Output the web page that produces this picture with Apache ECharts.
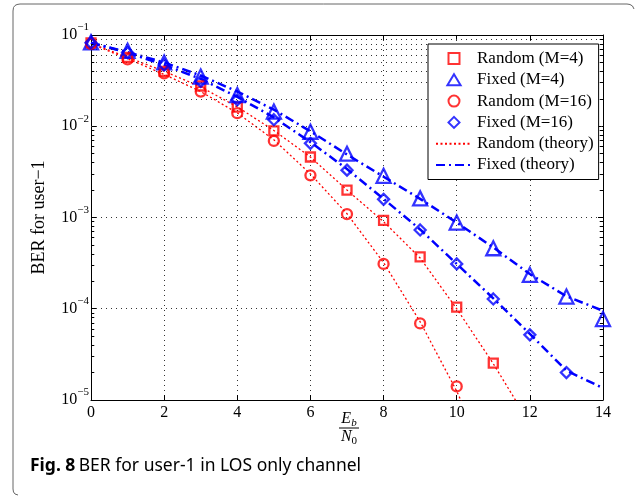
<!DOCTYPE html>
<html><head><meta charset="utf-8">
<script src="https://cdn.jsdelivr.net/npm/echarts@6/dist/echarts.min.js"></script>
<style>html,body{margin:0;padding:0;background:#fff}#c{width:635px;height:496px}</style>
</head><body><div id="c"></div>
<script>
// ---- data ----
const ebn0 = [0,1,2,3,4,5,6,7,8,9,10,11,12,13,14];
const xTicks = [0,2,4,6,8,10,12,14];
const yDecades = [1e-5,1e-4,1e-3,1e-2,1e-1];

const randomM4  = [0.082,0.057,0.040,0.0276,0.0162,0.0089,0.0046,0.0020,0.00093,0.00037,0.000104,0.0000254];
const fixedM4   = [0.083,0.067,0.050,0.035,0.022,0.0145,0.0087,0.0050,0.00286,0.00162,0.00088,0.00046,0.000235,0.000136,0.000077];
const randomM16 = [0.080,0.054,0.038,0.024,0.0139,0.0069,0.0029,0.00109,0.00031,0.000069,0.0000141];
const fixedM16  = [0.082,0.064,0.047,0.031,0.0195,0.0118,0.0065,0.0033,0.00158,0.00073,0.00031,0.000128,0.0000518,0.0000200];

const theoryRandomM4  = [0.081,0.057,0.040,0.027,0.0163,0.0090,0.0046,0.0020,0.00090,0.00036,0.000100,0.0000250,0.0000055];
const theoryRandomM16 = [0.080,0.055,0.037,0.024,0.0140,0.0071,0.0030,0.00110,0.00032,0.000072,0.0000125,0.0000016];
const theoryFixedM4   = [0.082,0.065,0.050,0.036,0.024,0.0152,0.0088,0.0049,0.0028,0.0016,0.00088,0.00047,0.00024,0.000137,0.000095];
const theoryFixedM16  = [0.082,0.064,0.047,0.033,0.021,0.0125,0.0067,0.0034,0.0016,0.00074,0.00031,0.00013,0.000053,0.000021,0.0000135];

const legendNames = ['Random (M=4)','Fixed (M=4)','Random (M=16)','Fixed (M=16)','Random (theory)','Fixed (theory)'];

// minor log grid positions (2..9 x each decade)
const minorVals = [];
for (let k = -5; k <= -2; k++) for (let m = 2; m <= 9; m++) minorVals.push(m * Math.pow(10, k));

// ---- helpers ----
const pairs = arr => arr.map((v, i) => [ebn0[i], v]);
const RED = '#ff0000', BLUE = '#0000ff';
const SERIF = '"Liberation Serif", "Times New Roman", serif';
const SANS = '"Noto Sans", "Open Sans", sans-serif';
const dotGrid = {color: '#333', width: 1, type: [1, 4]};

const ICONS = {
  rect: 'path://M0,0L10,0L10,10L0,10Z',
  triangle: 'path://M6,0L12,10L0,10Z',
  circle: 'path://M0,5A5,5,0,1,1,10,5A5,5,0,1,1,0,5Z',
  diamond: 'path://M5,0L10,5L5,10L0,5Z'
};

const chart = echarts.init(document.getElementById('c'), null, {renderer: 'canvas'});

function scatter(name, data, symbol, size, color) {
  return {
    name, type: 'scatter', data: pairs(data), symbol, symbolSize: size, z: 5,
    itemStyle: {color: 'rgba(255,255,255,0)', borderColor: color, borderWidth: 2.3}
  };
}
function theory(name, data, color, width, dash) {
  return {
    name, type: 'line', data: pairs(data), symbol: 'none', showSymbol: false, z: 3, clip: true,
    lineStyle: {color, width, type: dash}, itemStyle: {color}
  };
}

const option = {
  animation: false,
  backgroundColor: '#fff',
  grid: {left: 91, right: 32, top: 35, bottom: 96, containLabel: false},
  xAxis: [
    {type: 'value', min: 0, max: 14, interval: 2, position: 'bottom',
     axisLine: {show: true, onZero: false, lineStyle: {color: '#000', width: 1}},
     axisTick: {show: true, inside: true, length: 5, lineStyle: {color: '#000'}},
     axisLabel: {margin: 5, color: '#000', fontFamily: SERIF, fontSize: 16,
                 formatter: v => xTicks.includes(v) ? String(v) : ''},
     splitLine: {show: true, lineStyle: dotGrid}},
    {type: 'value', min: 0, max: 14, interval: 2, position: 'top',
     axisLine: {show: true, onZero: false, lineStyle: {color: '#000', width: 1}},
     axisTick: {show: true, inside: true, length: 5, lineStyle: {color: '#000'}},
     axisLabel: {show: false}, splitLine: {show: false}}
  ],
  yAxis: [
    {type: 'log', logBase: 10, min: yDecades[0], max: yDecades[yDecades.length-1], position: 'left',
     name: 'BER for user\u22121', nameLocation: 'middle', nameGap: 43,
     nameTextStyle: {color: '#000', fontFamily: SERIF, fontSize: 18},
     axisLine: {show: true, onZero: false, lineStyle: {color: '#000', width: 1}},
     axisTick: {show: true, inside: true, length: 5, lineStyle: {color: '#000'}},
     axisLabel: {margin: 2, color: '#000', fontFamily: SERIF,
       formatter: v => { const e = Math.round(Math.log10(v)); return '{b|10}{e|\u2212' + Math.abs(e) + '}'; },
       rich: {b: {fontFamily: SERIF, fontSize: 16, lineHeight: 26, color: '#000'},
              e: {fontFamily: SERIF, fontSize: 11, lineHeight: 11, verticalAlign: 'top', color: '#000'}}},
     splitLine: {show: true, lineStyle: dotGrid}},
    {type: 'log', logBase: 10, min: yDecades[0], max: yDecades[yDecades.length-1], position: 'right',
     axisLine: {show: true, onZero: false, lineStyle: {color: '#000', width: 1}},
     axisTick: {show: true, inside: true, length: 5, lineStyle: {color: '#000'}},
     axisLabel: {show: false}, splitLine: {show: false}}
  ],
  legend: {
    data: [
      {name: legendNames[0], icon: ICONS.rect},
      {name: legendNames[1], icon: ICONS.triangle},
      {name: legendNames[2], icon: ICONS.circle},
      {name: legendNames[3], icon: ICONS.diamond},
      {name: legendNames[4], itemStyle: {opacity: 0}},
      {name: legendNames[5], itemStyle: {opacity: 0}}
    ],
    orient: 'vertical', left: 428, top: 44, z: 10,
    padding: [6, 5, 6, 7], itemWidth: 36, itemHeight: 11, itemGap: 4.3, symbolKeepAspect: true,
    backgroundColor: '#fff', borderColor: '#000', borderWidth: 1, borderRadius: 0,
    textStyle: {fontFamily: SERIF, fontSize: 17, lineHeight: 17, color: '#000'},
    selectedMode: false
  },
  graphic: [
    {type: 'polyline', silent: true,
     shape: {points: [[18,495],[15,494],[13.5,492],[13,489],[13,11],[13.5,7.5],[15,5.5],[17,4.5],[20,4],[627,4],[630,4.5],[632.5,6],[634,9]]},
     style: {fill: 'none', stroke: '#666', lineWidth: 1}},
    {type: 'text', silent: true, x: 349, y: 420,
     style: {text: '{i|E}{s|b}', align: 'center', verticalAlign: 'middle',
       rich: {i: {fontFamily: SERIF, fontStyle: 'italic', fontSize: 16, lineHeight: 18, verticalAlign: 'top'},
              s: {fontFamily: SERIF, fontStyle: 'italic', fontSize: 11, lineHeight: 14, verticalAlign: 'bottom'}}}},
    {type: 'line', silent: true, shape: {x1: 339, y1: 428, x2: 359, y2: 428}, style: {stroke: '#000', lineWidth: 1}},
    {type: 'text', silent: true, x: 349, y: 438,
     style: {text: '{i|N}{s|0}', align: 'center', verticalAlign: 'middle',
       rich: {i: {fontFamily: SERIF, fontStyle: 'italic', fontSize: 16, lineHeight: 18, verticalAlign: 'top'},
              s: {fontFamily: SERIF, fontSize: 11, lineHeight: 14, verticalAlign: 'bottom'}}}},
    {type: 'text', silent: true, x: 30, y: 466,
     style: {text: '{b|Fig. 8} {r|BER for user-1 in LOS only channel}', verticalAlign: 'middle',
       rich: {b: {fontFamily: SANS, fontWeight: 'bold', fontSize: 17.5, color: '#111'},
              r: {fontFamily: SANS, fontSize: 17.5, color: '#111'}}}}
  ],
  series: [
    theory('Random (theory)', theoryRandomM4, RED, 1.3, [2, 2.5]),
    theory('Random (theory)', theoryRandomM16, RED, 1.3, [2, 2.5]),
    theory('Fixed (theory)', theoryFixedM4, BLUE, 2.5, [9, 4, 2, 4]),
    theory('Fixed (theory)', theoryFixedM16, BLUE, 2.5, [9, 4, 2, 4]),
    scatter('Random (M=4)', randomM4, 'rect', 9, RED),
    scatter('Fixed (M=4)', fixedM4, 'triangle', 14, BLUE),
    scatter('Random (M=16)', randomM16, 'circle', 10, RED),
    scatter('Fixed (M=16)', fixedM16, 'diamond', 11, BLUE),
    {name: '_minorGrid', type: 'line', data: [], silent: true, z: 1,
     markLine: {silent: true, symbol: ['none','none'], label: {show: false}, animation: false,
       lineStyle: dotGrid, data: minorVals.map(v => ({yAxis: v}))}},
    {name: '_minorTicks', type: 'line', data: [], silent: true, z: 4,
     markLine: {silent: true, symbol: ['none','none'], label: {show: false}, animation: false,
       lineStyle: {color: '#000', width: 1, type: 'solid'},
       data: minorVals.flatMap(v => [
         [{coord: [0, v]}, {coord: [0.09, v]}],
         [{coord: [13.91, v]}, {coord: [14, v]}]
       ])}}
  ]
};
chart.setOption(option);
</script>
</body></html>
